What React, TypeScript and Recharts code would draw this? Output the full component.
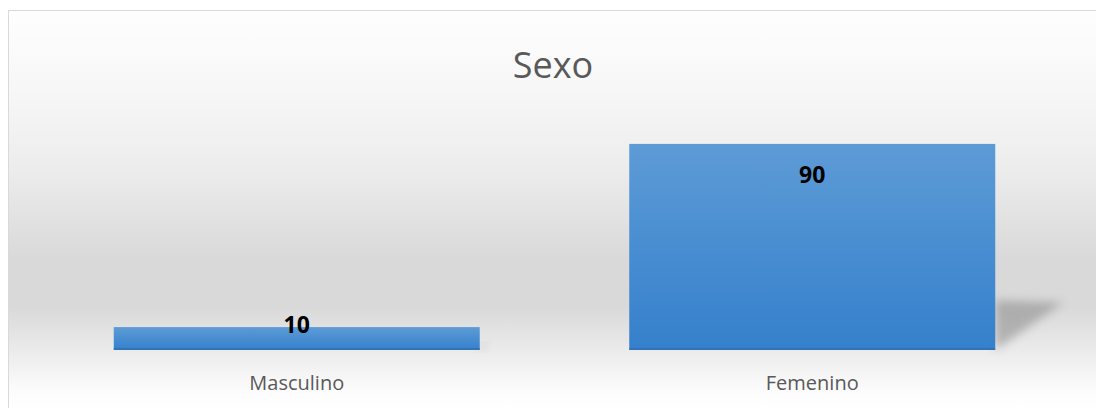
import { BarChart, Bar, XAxis, YAxis, LabelList } from "recharts";

const categories = ["Masculino", "Femenino"];
const values = [10, 90];
const chartTitle = "Sexo";

const data = categories.map((name, i) => ({ name, value: values[i] }));

const FONT = "'Open Sans', 'Noto Sans', sans-serif";

// bar with a soft floor shadow drawn to its right
const ShadowBar = (props: any) => {
  const { x, y, width, height } = props;
  if (!height || height <= 0) return null;
  const right = x + width;
  const bottom = y + height;
  const shadowPts = [
    `${right},${bottom - height * 0.24}`,
    `${right + height * 0.33},${bottom - height * 0.23}`,
    `${right},${bottom}`,
  ].join(" ");
  return (
    <g>
      <polygon points={shadowPts} fill="#808080" opacity={0.5} filter="url(#shadowBlur)" />
      <rect x={x} y={y} width={width} height={height} fill="url(#barFill)" />
      <rect x={x} y={bottom - 2} width={width} height={2} fill="#2f6aa8" opacity={0.6} />
    </g>
  );
};

const ValueLabel = (props: any) => {
  const { x, y, width, height, value } = props;
  const baseline = Math.min(y + 39, y + height - 17);
  return (
    <text
      x={x + width / 2}
      y={baseline}
      textAnchor="middle"
      fontFamily={FONT}
      fontWeight={700}
      fontSize={23}
      fill="#000"
    >
      {value}
    </text>
  );
};

const CategoryTick = (props: any) => {
  const { x, y, payload } = props;
  return (
    <text x={x} y={y + 40} textAnchor="middle" fontFamily={FONT} fontSize={20} fill="#595959">
      {payload.value}
    </text>
  );
};

export default function App() {
  return (
    <div
      style={{
        position: "absolute",
        top: 10,
        left: 8,
        width: 1088,
        height: 398,
        overflow: "hidden",
      }}
    >
      <div
        style={{
          width: 1100,
          height: 400,
          borderLeft: "1px solid #d9d9d9",
          borderTop: "1px solid #d9d9d9",
          background:
            "linear-gradient(to bottom, #fefefe 0%, #f7f7f7 20%, #ececec 40%, #d9d9d9 62%, #d9d9d9 74%, #e6e6e6 82%, #fcfcfc 95%, #ffffff 100%)",
          position: "relative",
        }}
      >
        <div
          style={{
            position: "absolute",
            left: 0,
            width: 1088,
            top: 29,
            textAlign: "center",
            fontFamily: FONT,
            fontSize: 36,
            lineHeight: "50px",
            color: "#595959",
          }}
        >
          {chartTitle}
        </div>
        <BarChart
          width={1100}
          height={400}
          data={data}
          margin={{ top: 110, right: 39, bottom: 0, left: 30 }}
          barCategoryGap="14.5%"
        >
          <defs>
            <linearGradient id="barFill" x1="0" y1="0" x2="0" y2="1">
              <stop offset="0%" stopColor="#5d9bd6" />
              <stop offset="100%" stopColor="#3580cc" />
            </linearGradient>
            <filter id="shadowBlur" x="-50%" y="-50%" width="200%" height="200%">
              <feGaussianBlur stdDeviation="5" />
            </filter>
          </defs>
          <XAxis
            dataKey="name"
            axisLine={false}
            tickLine={false}
            tickSize={0}
            tickMargin={0}
            height={61}
            tick={<CategoryTick />}
            interval={0}
          />
          <YAxis hide domain={[0, 100]} />
          <Bar dataKey="value" shape={<ShadowBar />} isAnimationActive={false}>
            <LabelList dataKey="value" content={<ValueLabel />} />
          </Bar>
        </BarChart>
      </div>
    </div>
  );
}
